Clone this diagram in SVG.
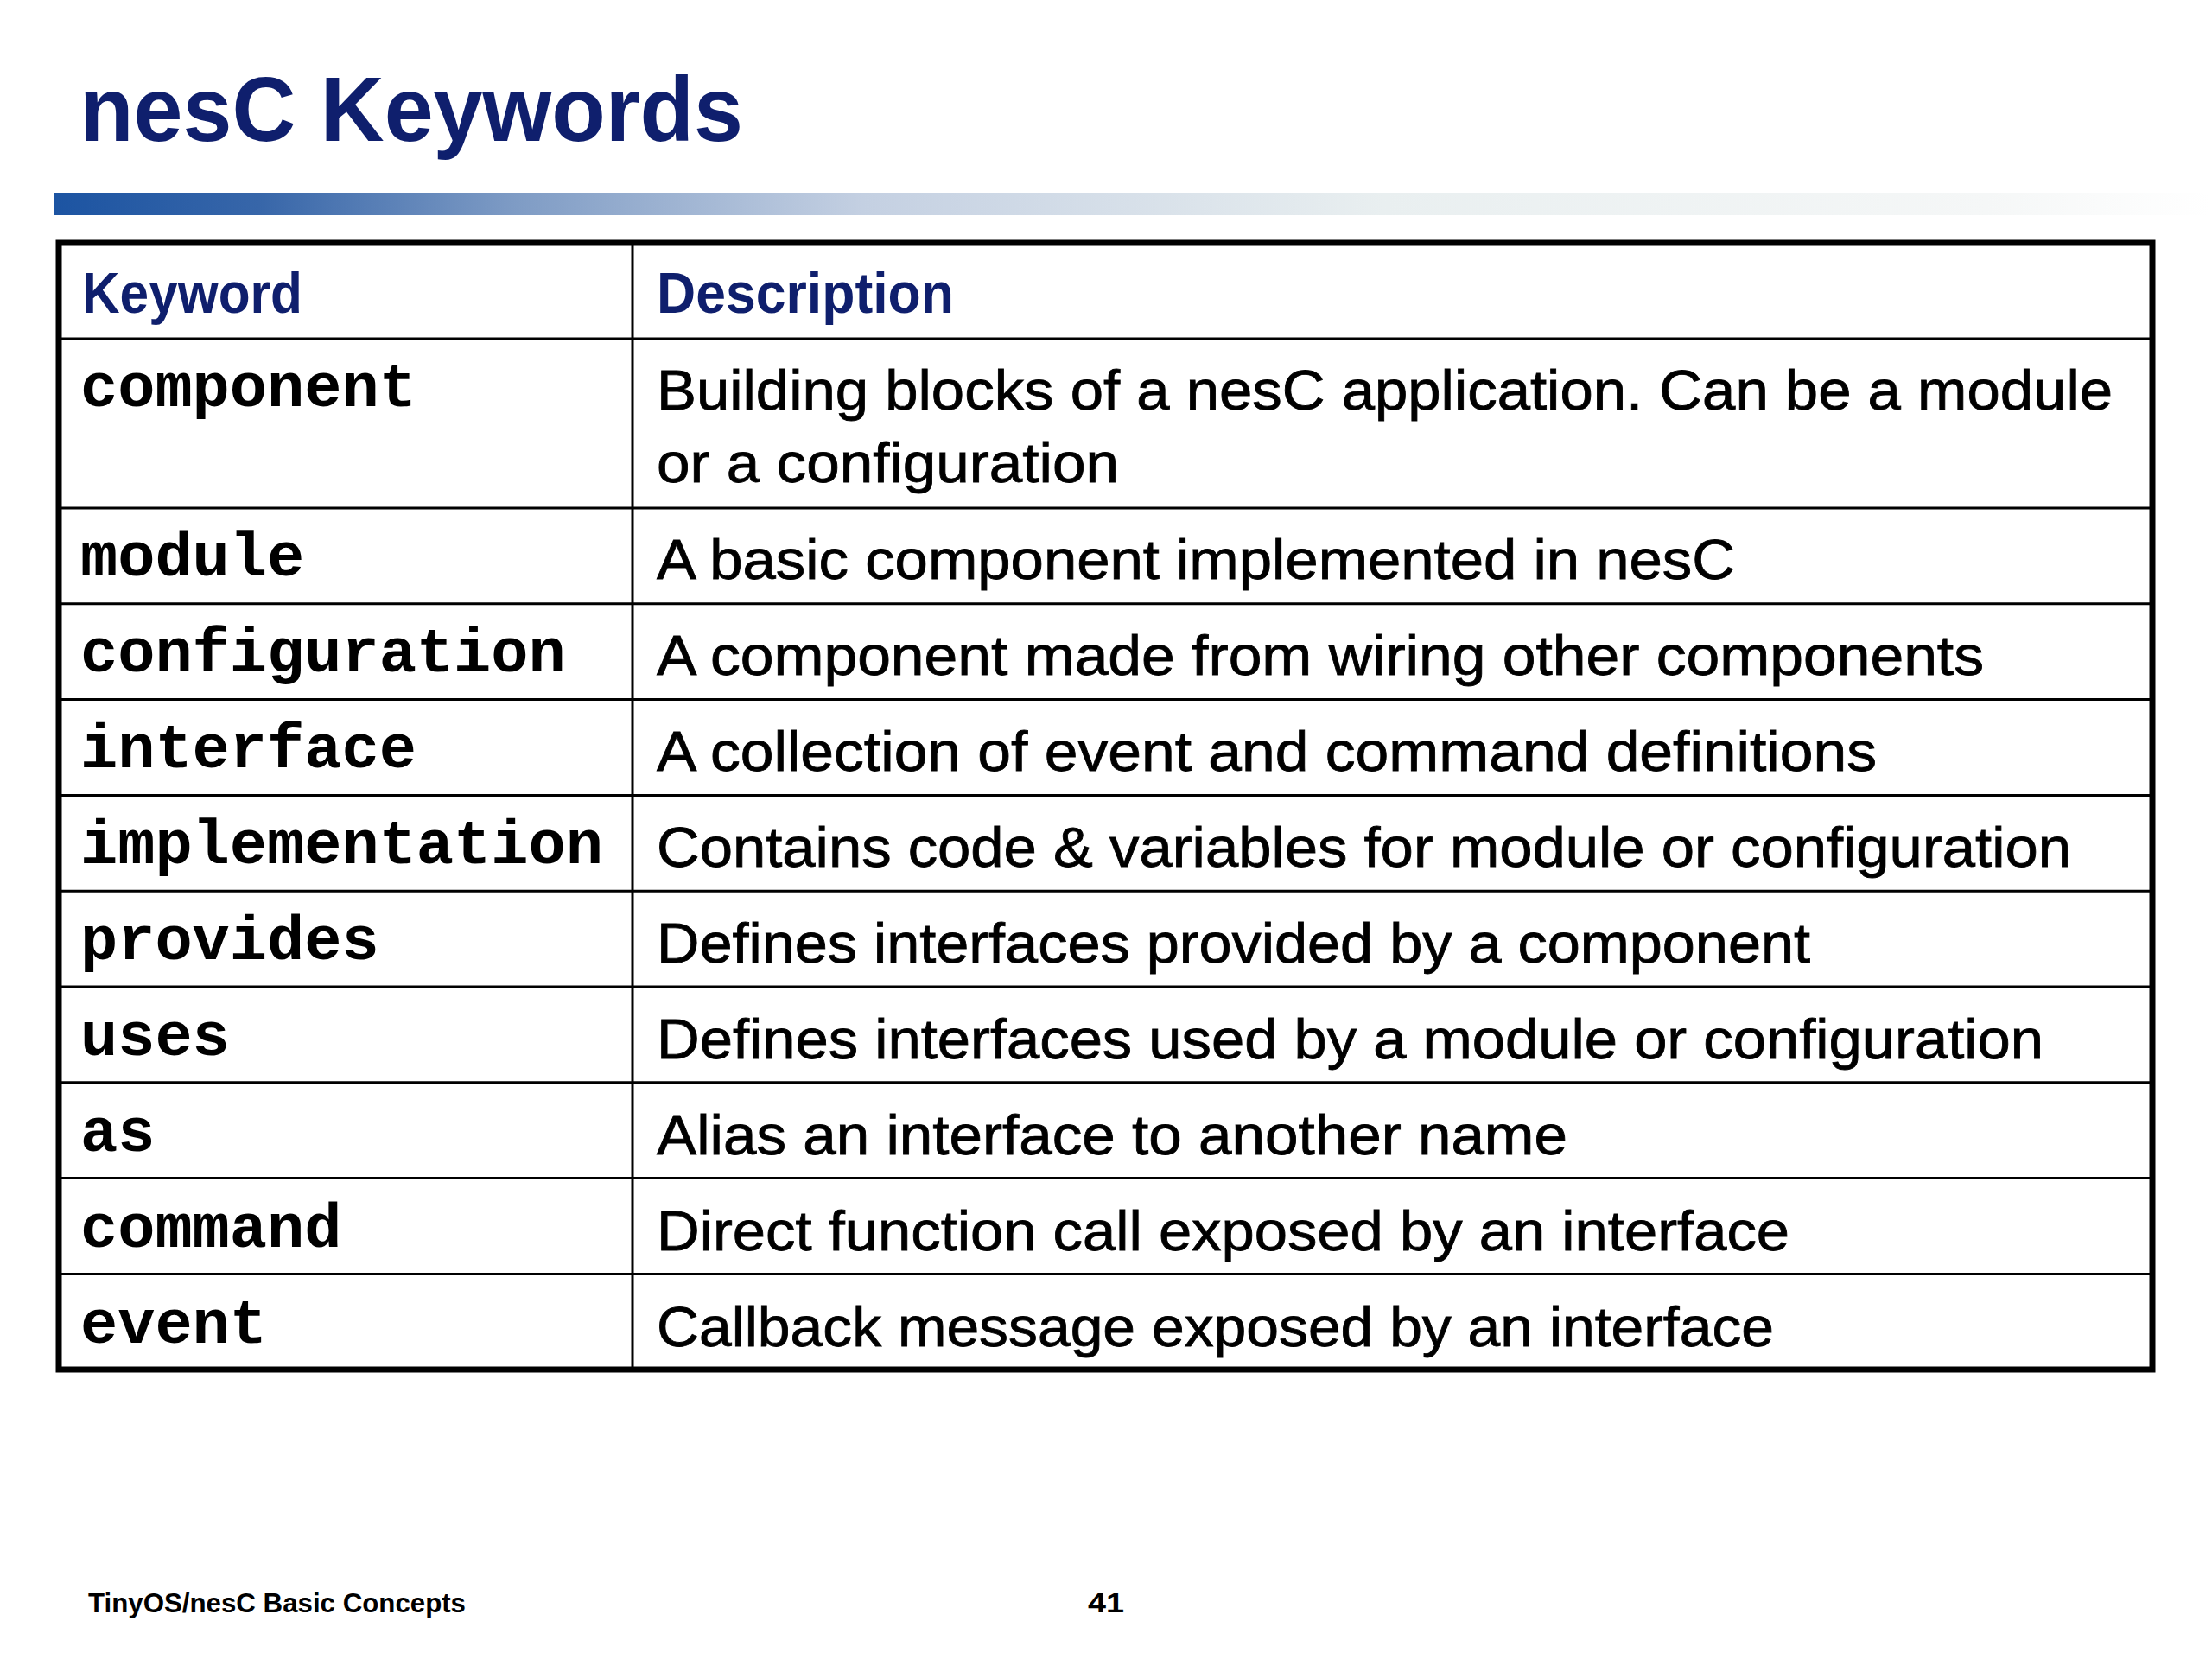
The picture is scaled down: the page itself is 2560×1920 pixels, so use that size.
<svg xmlns="http://www.w3.org/2000/svg" width="2560" height="1920" viewBox="0 0 2560 1920">
<style>
.title{font-family:"Liberation Sans",Arial,sans-serif;font-weight:bold;fill:#0f1f6d}
.hdr{font-family:"Liberation Sans",Arial,sans-serif;font-weight:bold;font-size:66px;fill:#0f1f6d}
.kw{font-family:"Liberation Mono","Courier New",monospace;font-weight:bold;font-size:72px;fill:#000}
.desc{font-family:"Liberation Sans",Arial,sans-serif;font-size:64px;fill:#000;stroke:#000;stroke-width:0.8}
.foot{font-family:"Liberation Sans",Arial,sans-serif;font-weight:bold;font-size:32px;fill:#000}
.grid{stroke:#000;stroke-width:3;fill:none}
</style>
<defs>
<linearGradient id="bar" x1="62" y1="0" x2="2560" y2="0" gradientUnits="userSpaceOnUse">
<stop offset="0" stop-color="#1c54a2"/>
<stop offset="0.095" stop-color="#3766a9"/>
<stop offset="0.215" stop-color="#7f9cc5"/>
<stop offset="0.375" stop-color="#c4d0e2"/>
<stop offset="0.616" stop-color="#e9eff0"/>
<stop offset="0.896" stop-color="#f5f7f7"/>
<stop offset="1" stop-color="#ffffff"/>
</linearGradient>
</defs>
<rect width="2560" height="1920" fill="#fff"/>
<text class="title" x="92" y="163" font-size="106" textLength="768" lengthAdjust="spacingAndGlyphs">nesC Keywords</text>
<rect x="62" y="223" width="2498" height="26" fill="url(#bar)"/>

<g id="table">
<rect x="68" y="281" width="2423" height="1304" fill="#fff" stroke="#000" stroke-width="7"/>
<line class="grid" x1="732" y1="281" x2="732" y2="1585"/>
<line class="grid" x1="68" y1="392" x2="2491" y2="392"/>
<line class="grid" x1="68" y1="588" x2="2491" y2="588"/>
<line class="grid" x1="68" y1="698.8" x2="2491" y2="698.8"/>
<line class="grid" x1="68" y1="809.6" x2="2491" y2="809.6"/>
<line class="grid" x1="68" y1="920.4" x2="2491" y2="920.4"/>
<line class="grid" x1="68" y1="1031.2" x2="2491" y2="1031.2"/>
<line class="grid" x1="68" y1="1142" x2="2491" y2="1142"/>
<line class="grid" x1="68" y1="1252.8" x2="2491" y2="1252.8"/>
<line class="grid" x1="68" y1="1363.6" x2="2491" y2="1363.6"/>
<line class="grid" x1="68" y1="1474.4" x2="2491" y2="1474.4"/>
</g>

<g id="header">
<text class="hdr" x="95" y="362" textLength="255" lengthAdjust="spacingAndGlyphs">Keyword</text>
<text class="hdr" x="760" y="362" textLength="344" lengthAdjust="spacingAndGlyphs">Description</text>
</g>

<g id="row-component">
<text class="kw" x="93" y="470">component</text>
<text class="desc" x="760" y="474" textLength="1685" lengthAdjust="spacingAndGlyphs">Building blocks of a nesC application.  Can be a module</text>
<text class="desc" x="760" y="558" textLength="535" lengthAdjust="spacingAndGlyphs">or a configuration</text>
</g>
<g id="row-module">
<text class="kw" x="93" y="666">module</text>
<text class="desc" x="760" y="670" textLength="1248" lengthAdjust="spacingAndGlyphs">A basic component implemented in nesC</text>
</g>
<g id="row-configuration">
<text class="kw" x="93" y="777">configuration</text>
<text class="desc" x="760" y="781" textLength="1536" lengthAdjust="spacingAndGlyphs">A component made from wiring other components</text>
</g>
<g id="row-interface">
<text class="kw" x="93" y="888">interface</text>
<text class="desc" x="760" y="892" textLength="1412" lengthAdjust="spacingAndGlyphs">A collection of event and command definitions</text>
</g>
<g id="row-implementation">
<text class="kw" x="93" y="999">implementation</text>
<text class="desc" x="760" y="1003" textLength="1637" lengthAdjust="spacingAndGlyphs">Contains code &amp; variables for module or configuration</text>
</g>
<g id="row-provides">
<text class="kw" x="93" y="1110">provides</text>
<text class="desc" x="760" y="1114" textLength="1335" lengthAdjust="spacingAndGlyphs">Defines interfaces provided by a component</text>
</g>
<g id="row-uses">
<text class="kw" x="93" y="1221">uses</text>
<text class="desc" x="760" y="1225" textLength="1605" lengthAdjust="spacingAndGlyphs">Defines interfaces used by a module or configuration</text>
</g>
<g id="row-as">
<text class="kw" x="93" y="1332">as</text>
<text class="desc" x="760" y="1336" textLength="1054" lengthAdjust="spacingAndGlyphs">Alias an interface to another name</text>
</g>
<g id="row-command">
<text class="kw" x="93" y="1443">command</text>
<text class="desc" x="760" y="1447" textLength="1311" lengthAdjust="spacingAndGlyphs">Direct function call exposed by an interface</text>
</g>
<g id="row-event">
<text class="kw" x="93" y="1554">event</text>
<text class="desc" x="760" y="1558" textLength="1293" lengthAdjust="spacingAndGlyphs">Callback message exposed by an interface</text>
</g>

<g id="footer">
<text class="foot" x="102" y="1866" textLength="437" lengthAdjust="spacingAndGlyphs">TinyOS/nesC Basic Concepts</text>
<text class="foot" x="1259" y="1866" textLength="42" lengthAdjust="spacingAndGlyphs">41</text>
</g>
</svg>
